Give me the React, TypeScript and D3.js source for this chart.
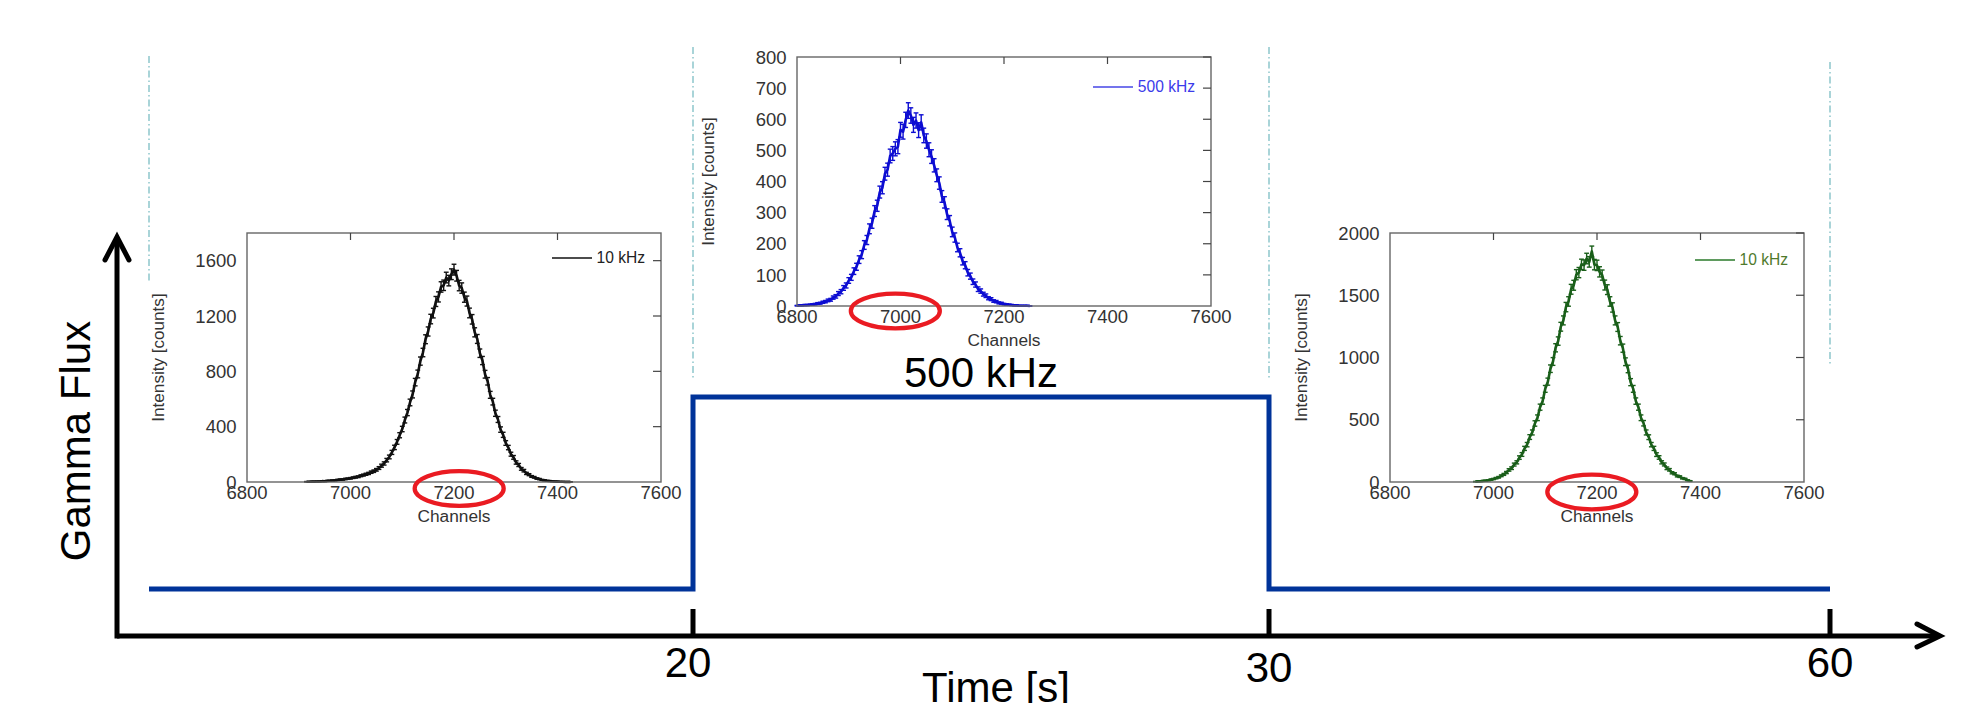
import React from 'react';
import * as d3 from 'd3';

// ---------- main step chart data ----------
const timeBreaks = [0, 20, 30, 60];          // s
const timeTickValues = [20, 30, 60];
const stepRatesKHz = [10, 500, 10];          // rate during each interval
const stepLabel = '500 kHz';
const xAxisTitle = 'Time [s]';
const yAxisTitle = 'Gamma Flux';

// ---------- inset spectra ----------
const channelStep = 5;
const channelTicks = [6800, 7000, 7200, 7400, 7600];

const spec1Start = 6915; // 10 kHz (before)
const spec1Counts = [
  2, 2, 3, 3, 4, 4, 6, 5, 8, 9, 11, 12, 15, 17, 18, 22, 24, 27, 31, 35,
  38, 45, 50, 56, 62, 71, 78, 88, 101, 118, 134, 158, 181, 214, 250, 290, 338, 383, 448, 502,
  575, 633, 722, 781, 874, 936, 1032, 1088, 1178, 1221, 1305, 1338, 1410, 1422, 1478, 1456, 1502, 1535, 1491, 1420,
  1402, 1336, 1308, 1222, 1176, 1082, 1034, 931, 878, 779, 728, 630, 581, 497, 452, 379, 341, 282, 249, 201,
  178, 141, 123, 95, 82, 62, 53, 40, 34, 25, 21, 15, 12, 9, 7, 5, 4, 3, 2, 2,
  1, 1, 1,
];
const spec1YTicks = [0, 400, 800, 1200, 1600];

const spec2Start = 6800; // 500 kHz
const spec2Counts = [
  1, 2, 2, 3, 3, 4, 5, 6, 8, 9, 12, 14, 18, 20, 27, 31, 40, 46, 58, 66,
  82, 92, 112, 126, 149, 165, 196, 212, 248, 266, 305, 322, 366, 380, 425, 438, 482, 490, 505, 512,
  566, 560, 598, 628, 612, 582, 596, 565, 590, 548, 530, 502, 480, 452, 420, 395, 352, 333, 295, 274,
  238, 220, 188, 171, 144, 131, 107, 96, 78, 69, 54, 48, 38, 33, 25, 22, 16, 14, 10, 9,
  6, 5, 4, 3, 2, 2, 1, 1, 1, 1, 0,
];
const spec2YTicks = [0, 100, 200, 300, 400, 500, 600, 700, 800];

const spec3Start = 6965; // 10 kHz (after)
const spec3Counts = [
  3, 5, 6, 9, 11, 14, 19, 24, 31, 38, 50, 61, 76, 97, 111, 140, 158, 196, 221, 270,
  300, 361, 398, 470, 516, 601, 650, 748, 806, 910, 968, 1078, 1132, 1247, 1298, 1405, 1450, 1548, 1580, 1665,
  1682, 1748, 1742, 1795, 1768, 1852, 1746, 1740, 1688, 1662, 1582, 1545, 1450, 1402, 1298, 1245, 1135, 1075, 966, 908,
  802, 748, 650, 601, 516, 472, 398, 360, 300, 270, 220, 197, 158, 141, 110, 98, 74, 66, 48, 43,
  30, 25, 14, 8,
];
const spec3YTicks = [0, 500, 1000, 1500, 2000];

const legendLabels = ['10 kHz', '500 kHz', '10 kHz'];
const highlightChannels = [7210, 6990, 7190];

// ---------- layout / style ----------
const W = 1964;
const H = 703;
const FONT = 'Liberation Sans, Arial, sans-serif';
const INSET_W = 414;
const INSET_H = 249;

const insets = [
  {
    start: spec1Start, counts: spec1Counts, yMax: 1800, yTicks: spec1YTicks,
    left: 247, top: 233, color: '#111111', legendColor: '#222222', legendLine: '#111111',
    legendDy: 25, ellipseDy: 6.5, legend: legendLabels[0], hl: highlightChannels[0],
  },
  {
    start: spec2Start, counts: spec2Counts, yMax: 800, yTicks: spec2YTicks,
    left: 797, top: 57, color: '#0d0dd2', legendColor: '#3b3bea', legendLine: '#4646e6',
    legendDy: 30, ellipseDy: 5, legend: legendLabels[1], hl: highlightChannels[1],
  },
  {
    start: spec3Start, counts: spec3Counts, yMax: 2000, yTicks: spec3YTicks,
    left: 1390, top: 233, color: '#1a5f1a', legendColor: '#4f7a2c', legendLine: '#2a7a2a',
    legendDy: 27, ellipseDy: 10, legend: legendLabels[2], hl: highlightChannels[2],
  },
];

const guideTops = [56, 47, 47, 62];
const guideBottoms = [283, 378, 380, 364];
const tickLabelShift = [[-5, 0], [0, 5], [0, 0]];

function Inset({ cfg }: { cfg: any }) {
  const { left, top } = cfg;
  const x = d3.scaleLinear().domain([6800, 7600]).range([left, left + INSET_W]);
  const y = d3.scaleLinear().domain([0, cfg.yMax]).range([top + INSET_H, top]);
  const pts = cfg.counts.map((c: number, i: number) => ({ ch: cfg.start + i * channelStep, c }));
  const line = d3.line<any>().x((d) => x(d.ch)).y((d) => y(d.c));
  const bottom = top + INSET_H;
  const right = left + INSET_W;
  return (
    <g fontFamily={FONT}>
      {/* curve */}
      <path d={line(pts) || ''} fill="none" stroke={cfg.color} strokeWidth={2.6} strokeLinejoin="round" />
      {pts.map((d: any, i: number) => {
        const e = Math.sqrt(d.c);
        const cx = x(d.ch);
        const y1 = y(Math.max(0, d.c - e));
        const y2 = y(d.c + e);
        return (
          <g key={i} stroke={cfg.color} strokeWidth={1.4}>
            <line x1={cx} x2={cx} y1={y1} y2={y2} />
            <line x1={cx - 2.4} x2={cx + 2.4} y1={y1} y2={y1} />
            <line x1={cx - 2.4} x2={cx + 2.4} y1={y2} y2={y2} />
          </g>
        );
      })}
      {/* frame */}
      <rect x={left} y={top} width={INSET_W} height={INSET_H} fill="none" stroke="#666" strokeWidth={1.4} />
      {/* mirror ticks */}
      {channelTicks.slice(1, -1).map((t) => (
        <line key={'tt' + t} x1={x(t)} x2={x(t)} y1={top} y2={top + 7} stroke="#444" strokeWidth={1.2} />
      ))}
      {cfg.yTicks.slice(1).map((t: number) => (
        <line key={'rt' + t} x1={right - 8} x2={right} y1={y(t)} y2={y(t)} stroke="#444" strokeWidth={1.2} />
      ))}
      {/* tick labels */}
      {channelTicks.map((t) => (
        <text key={'xl' + t} x={x(t)} y={bottom + 16.5} textAnchor="middle" fontSize={18.5} fill="#333">
          {t}
        </text>
      ))}
      {cfg.yTicks.map((t: number) => (
        <text key={'yl' + t} x={left - 10.5} y={y(t)} dy="0.36em" textAnchor="end" fontSize={18.5} fill="#333">
          {t}
        </text>
      ))}
      <text x={(left + right) / 2} y={bottom + 39.5} textAnchor="middle" fontSize={17.3} fill="#333">
        Channels
      </text>
      <text
        transform={`translate(${left - 83},${(top + bottom) / 2}) rotate(-90)`}
        textAnchor="middle"
        fontSize={17.1}
        fill="#333"
      >
        Intensity [counts]
      </text>
      {/* legend */}
      <text x={right - 16} y={top + cfg.legendDy} dy="0.35em" textAnchor="end" fontSize={15.6} fill={cfg.legendColor}>
        {cfg.legend}
      </text>
      <LegendLine cfg={cfg} right={right} top={top} />
      {/* highlight ellipse */}
      <ellipse cx={x(cfg.hl)} cy={bottom + cfg.ellipseDy} rx={44.5} ry={17.3} fill="none" stroke="#ea1b22" strokeWidth={4.3} />
    </g>
  );
}

function LegendLine({ cfg, right, top }: { cfg: any; right: number; top: number }) {
  const textW = cfg.legend.length === 7 ? 58 : 49;
  const x2 = right - 16 - textW - 4;
  return <line x1={x2 - 40} x2={x2} y1={top + cfg.legendDy} y2={top + cfg.legendDy} stroke={cfg.legendLine} strokeWidth={1.3} />;
}

export default function App() {
  const xTime = d3.scaleLinear().domain(timeBreaks).range([149, 693, 1269, 1830]);
  const yRate = d3.scaleLinear().domain([10, 500]).range([589, 397]);
  const stepPts: [number, number][] = timeBreaks.map((t, i) => [t, stepRatesKHz[Math.min(i, stepRatesKHz.length - 1)]]);
  const stepLine = d3
    .line<[number, number]>()
    .x((d) => xTime(d[0]))
    .y((d) => yRate(d[1]))
    .curve(d3.curveStepAfter);

  const axisY = 636;
  const axisX = 117;

  return (
    <svg
      width={W}
      height={H}
      viewBox={`0 0 ${W} ${H}`}
      style={{ position: 'absolute', left: 0, top: 0, background: '#fff' }}
    >
      <rect x={0} y={0} width={W} height={H} fill="#fff" />
      {/* dash-dot guides */}
      {timeBreaks.map((t, i) => (
        <line
          key={'g' + t}
          x1={xTime(t)}
          x2={xTime(t)}
          y1={guideTops[i]}
          y2={guideBottoms[i]}
          stroke="#a9d4d8"
          strokeWidth={2}
          strokeDasharray="7 3 1.5 3"
        />
      ))}

      {insets.map((cfg, i) => (
        <Inset key={i} cfg={cfg} />
      ))}

      {/* step */}
      <path d={stepLine(stepPts) || ''} fill="none" stroke="#003399" strokeWidth={5} strokeLinejoin="miter" />
      <text
        x={(xTime(20) + xTime(30)) / 2}
        y={yRate(500) - 10}
        textAnchor="middle"
        fontFamily={FONT}
        fontSize={42}
        fill="#000"
      >
        {stepLabel}
      </text>

      {/* axes */}
      <g stroke="#000" strokeWidth={5} fill="none" strokeLinecap="round">
        <line x1={axisX} x2={1938} y1={axisY} y2={axisY} strokeLinecap="butt" />
        <polyline points={`1917,624 1940,${axisY} 1917,647`} strokeLinejoin="miter" />
        <line x1={axisX} x2={axisX} y1={axisY + 2.5} y2={239} strokeLinecap="butt" />
        <polyline points={`105,260 ${axisX},237 129,260`} strokeLinejoin="miter" />
      </g>
      {timeTickValues.map((t, i) => (
        <g key={'t' + t}>
          <line x1={xTime(t)} x2={xTime(t)} y1={609} y2={axisY} stroke="#000" strokeWidth={5} />
          <text
            x={xTime(t) + tickLabelShift[i][0]}
            y={677 + tickLabelShift[i][1]}
            textAnchor="middle"
            fontFamily={FONT}
            fontSize={42}
            fill="#000"
          >
            {t}
          </text>
        </g>
      ))}
      <text x={996} y={702} textAnchor="middle" fontFamily={FONT} fontSize={42} fill="#000">
        {xAxisTitle}
      </text>
      <text
        transform={`translate(90,441) rotate(-90)`}
        textAnchor="middle"
        fontFamily={FONT}
        fontSize={42}
        fill="#000"
      >
        {yAxisTitle}
      </text>
    </svg>
  );
}
